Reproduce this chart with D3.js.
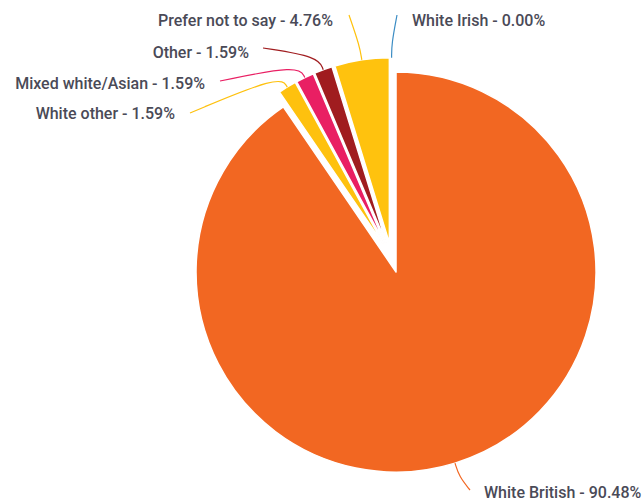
<!DOCTYPE html>
<html>
<head>
<meta charset="utf-8">
<script src="https://cdn.jsdelivr.net/npm/d3@7"></script>
<style>
  body { margin: 0; background: #fff; }
  .label { font-family: Roboto, "Noto Sans", sans-serif; font-size: 16px; font-weight: 500; fill: #4a4a57; }
</style>
</head>
<body>
<div id="chart"></div>
<script>
// data
var categories = ["White British", "White other", "Mixed white/Asian", "Other", "Prefer not to say", "White Irish"];
var percents = [90.48, 1.59, 1.59, 1.59, 4.76, 0.00];
var colors = ["#f26722", "#fec10e", "#e91f63", "#a01c1f", "#ffc20e", "#3c8dc4"];

// label placement (layout only)
var labelPos = [
  {x: 484, y: 498, anchor: "start", lx: 470, ly: 490},
  {x: 175, y: 119, anchor: "end",   lx: 190, ly: 113},
  {x: 205, y: 89,  anchor: "end",   lx: 220, ly: 81},
  {x: 249, y: 58,  anchor: "end",   lx: 263, ly: 48},
  {x: 333, y: 26,  anchor: "end",   lx: 349, ly: 15},
  {x: 412, y: 26,  anchor: "start", lx: 397, ly: 15}
];

var svg = d3.select("#chart").append("svg")
    .attr("width", 643)
    .attr("height", 504);

var cx = 391.6, cy = 257.7;
var radius = 185, bigRadius = 200, explode = 15;

var data = categories.map(function(c, i) { return {name: c, value: percents[i], color: colors[i], pos: labelPos[i]}; });

var pie = d3.pie().sort(null).value(function(d) { return d.value; });
var arcs = pie(data);

var g = svg.append("g").attr("transform", "translate(" + cx + "," + cy + ")");

function mid(d) { return (d.startAngle + d.endAngle) / 2; }
function rOf(d, i) { return i === 0 ? bigRadius : radius; }

g.selectAll("path.slice")
    .data(arcs)
  .enter().append("path")
    .attr("class", "slice")
    .attr("transform", function(d) {
      var a = mid(d);
      return "translate(" + (Math.sin(a) * explode) + "," + (-Math.cos(a) * explode) + ")";
    })
    .attr("d", function(d, i) { return d3.arc().innerRadius(0).outerRadius(rOf(d, i))(d); })
    .attr("fill", function(d) { return d.data.color; })
    .attr("stroke", "#fff")
    .attr("stroke-width", 1.5)
    .attr("stroke-linejoin", "round");

// connectors
var conn = d3.line().curve(d3.curveBasis);
g.selectAll("path.conn")
    .data(arcs)
  .enter().append("path")
    .attr("class", "conn")
    .attr("fill", "none")
    .attr("stroke", function(d) { return d.data.color; })
    .attr("stroke-width", 1.2)
    .attr("d", function(d, i) {
      var a = mid(d), r0 = rOf(d, i) + explode;
      var p0 = [Math.sin(a) * r0, -Math.cos(a) * r0];
      var p1 = [Math.sin(a) * (r0 + 14), -Math.cos(a) * (r0 + 14)];
      var p2 = [d.data.pos.lx - cx, d.data.pos.ly - cy];
      return conn([p0, p1, p2]);
    });

svg.selectAll("text.label")
    .data(arcs)
  .enter().append("text")
    .attr("class", "label")
    .attr("x", function(d) { return d.data.pos.x; })
    .attr("y", function(d) { return d.data.pos.y; })
    .attr("text-anchor", function(d) { return d.data.pos.anchor; })
    .text(function(d) { return d.data.name + " - " + d3.format(".2f")(d.data.value) + "%"; });
</script>
</body>
</html>
